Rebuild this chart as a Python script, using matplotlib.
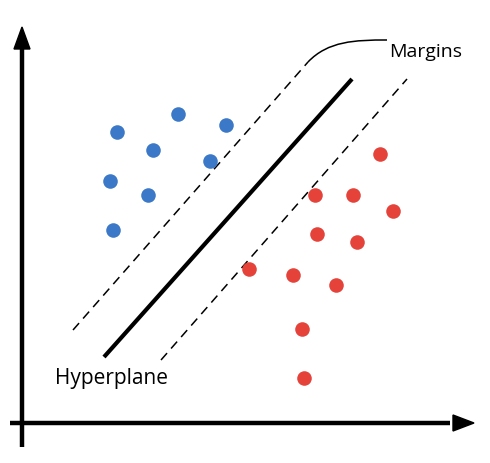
import numpy as np
import matplotlib.pyplot as plt
from matplotlib.path import Path
from matplotlib.patches import PathPatch

# points in picture coordinates (x right, y down)
blue_x = [117, 178, 226, 153, 210, 110, 148, 113]
blue_y = [133, 115, 126, 151, 162, 182, 196, 231]
red_x = [380, 315, 353, 393, 317, 357, 249, 293, 336, 302, 304]
red_y = [155, 196, 196, 212, 235, 243, 270, 276, 286, 330, 379]

hyper_x = [104, 352]
hyper_y = [358, 80]
upper_x = [73, 308]
upper_y = [331, 63]
lower_x = [161, 407]
lower_y = [361, 80]

fig = plt.figure(figsize=(4.9, 4.64), dpi=100)
ax = fig.add_axes([0, 0, 1, 1])
ax.set_xlim(0, 490)
ax.set_ylim(464, 0)
ax.axis('off')

# axes arrows
ax.plot([22, 22], [448, 50], color='black', lw=3.2, solid_capstyle='butt')
ax.plot([10, 450], [424, 424], color='black', lw=3.2, solid_capstyle='butt')
ax.fill([14, 30, 22], [50, 50, 28], color='black')
ax.fill([453, 453, 474], [416, 432, 424], color='black')

# hyperplane and margins
ax.plot(hyper_x, hyper_y, color='black', lw=3, solid_capstyle='butt')
ax.plot(upper_x, upper_y, color='black', lw=1.1, ls=(0, (6, 4)))
ax.plot(lower_x, lower_y, color='black', lw=1.1, ls=(0, (6, 4)))

# curve from margin to label
verts = [(308, 63), (328, 42), (355, 41), (387, 41)]
curve = Path(verts, [Path.MOVETO, Path.CURVE4, Path.CURVE4, Path.CURVE4])
ax.add_patch(PathPatch(curve, fill=False, lw=1.1, color='black'))

ax.scatter(blue_x, blue_y, s=110, color='#3b78c8', zorder=3, linewidths=0)
ax.scatter(red_x, red_y, s=110, color='#e5423a', zorder=3, linewidths=0)

ax.text(389, 52, 'Margins', fontsize=14, family='Open Sans', va='center', ha='left')
ax.text(55, 379, 'Hyperplane', fontsize=15, family='Open Sans', va='center', ha='left')

fig.savefig('out.png', dpi=100)
